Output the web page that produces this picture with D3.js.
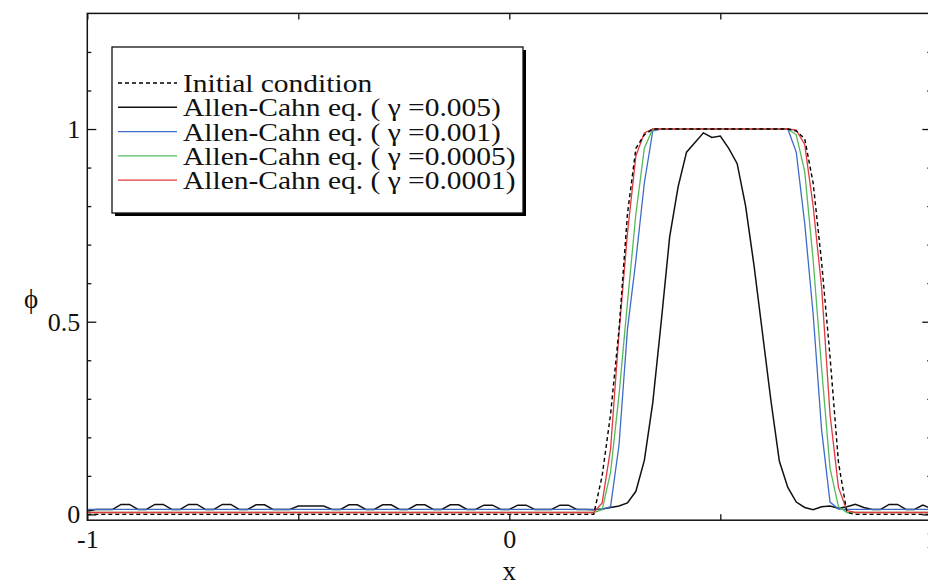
<!DOCTYPE html>
<html>
<head>
<meta charset="utf-8">
<script src="https://cdn.jsdelivr.net/npm/d3@7.9.0/dist/d3.min.js"></script>
<style>
  html, body { margin: 0; padding: 0; background: #fff; }
  svg { display: block; }
  text { font-family: "Liberation Serif", "Times New Roman", serif; fill: #111; }
</style>
</head>
<body>
<svg id="chart" width="928" height="587"></svg>
<script>
// tick positions
const xTicks = [-1, -0.5, 0, 0.5, 1];
const xTickLabels = [-1, 0, 1];
const yMajorTicks = [0, 0.5, 1];
const yMinorTicks = [0.1, 0.2, 0.3, 0.4, 0.6, 0.7, 0.8, 0.9, 1.1, 1.2];

// Allen-Cahn, gamma = 0.005 (black, sampled every 0.02)
const blackX = [-1, -0.98, -0.96, -0.94, -0.92, -0.9, -0.88, -0.86, -0.84, -0.82,
  -0.8, -0.78, -0.76, -0.74, -0.72, -0.7, -0.68, -0.66, -0.64, -0.62,
  -0.6, -0.58, -0.56, -0.54, -0.52, -0.5, -0.48, -0.46, -0.44, -0.42,
  -0.4, -0.38, -0.36, -0.34, -0.32, -0.3, -0.28, -0.26, -0.24, -0.22,
  -0.2, -0.18, -0.16, -0.14, -0.12, -0.1, -0.08, -0.06, -0.04, -0.02,
  0, 0.02, 0.04, 0.06, 0.08, 0.1, 0.12, 0.14, 0.16, 0.18,
  0.2, 0.22, 0.24, 0.26, 0.28, 0.3, 0.32, 0.34, 0.36, 0.38,
  0.4, 0.42, 0.44, 0.46, 0.48, 0.5, 0.52, 0.54, 0.56, 0.58,
  0.6, 0.62, 0.64, 0.66, 0.68, 0.7, 0.72, 0.74, 0.76, 0.78,
  0.8, 0.82, 0.84, 0.86, 0.88, 0.9, 0.92, 0.94, 0.96, 0.98, 1];
const blackY = [0.008, 0.013, 0.013, 0.013, 0.026, 0.026, 0.013, 0.013, 0.026, 0.026,
  0.013, 0.013, 0.026, 0.026, 0.013, 0.013, 0.026, 0.026, 0.013, 0.013,
  0.025, 0.025, 0.013, 0.013, 0.013, 0.022, 0.022, 0.022, 0.022, 0.013,
  0.013, 0.025, 0.025, 0.013, 0.013, 0.025, 0.025, 0.013, 0.013, 0.025,
  0.025, 0.013, 0.013, 0.025, 0.025, 0.013, 0.013, 0.024, 0.024, 0.013,
  0.013, 0.024, 0.024, 0.013, 0.013, 0.013, 0.024, 0.024, 0.013, 0.013,
  0.012, 0.014, 0.018, 0.022, 0.03, 0.06, 0.14, 0.29, 0.5, 0.72,
  0.85, 0.94, 0.965, 0.99, 0.978, 0.982, 0.95, 0.91, 0.8, 0.645,
  0.47, 0.295, 0.138, 0.07, 0.032, 0.018, 0.012, 0.02, 0.022, 0.016,
  0.02, 0.026, 0.018, 0.013, 0.013, 0.026, 0.026, 0.013, 0.013, 0.024, 0.015];

// gamma = 0.001 (blue)
const blueX = [-1, 0.22, 0.24, 0.26, 0.28, 0.3, 0.32, 0.34, 0.36, 0.66, 0.68, 0.7, 0.72, 0.74, 0.76, 0.78, 0.8, 1];
const blueY = [0.013, 0.013, 0.02, 0.18, 0.48, 0.66, 0.86, 0.995, 1, 1, 0.94, 0.755, 0.52, 0.22, 0.032, 0.014, 0.013, 0.013];

// gamma = 0.0005 (green)
const greenX = [-1, 0.2, 0.22, 0.24, 0.26, 0.28, 0.3, 0.32, 0.34, 0.66, 0.68, 0.7, 0.72, 0.74, 0.76, 0.78, 0.8, 1];
const greenY = [0.005, 0.005, 0.012, 0.11, 0.31, 0.55, 0.78, 0.95, 1, 1, 0.985, 0.89, 0.66, 0.38, 0.12, 0.02, 0.005, 0.005];

// gamma = 0.0001 (red)
const redX = [-1, 0.2, 0.22, 0.24, 0.26, 0.28, 0.3, 0.32, 0.34, 0.66, 0.68, 0.7, 0.72, 0.74, 0.76, 0.78, 0.8, 0.82, 1];
const redY = [0.005, 0.005, 0.03, 0.17, 0.47, 0.73, 0.93, 0.99, 1, 1, 0.997, 0.96, 0.8, 0.59, 0.26, 0.07, 0.01, 0.005, 0.005];

// initial condition (dashed)
const initX = [-1, 0.2, 0.22, 0.24, 0.26, 0.28, 0.3, 0.32, 0.34, 0.66, 0.68, 0.7, 0.72, 0.74, 0.76, 0.78, 0.8, 0.82, 1];
const initY = [0, 0, 0.1, 0.26, 0.48, 0.78, 0.95, 0.985, 1, 1, 0.995, 0.975, 0.86, 0.655, 0.41, 0.135, 0.005, 0, 0];

const legendLabels = [
  'Initial condition',
  'Allen-Cahn eq. ( \u03b3 =0.005)',
  'Allen-Cahn eq. ( \u03b3 =0.001)',
  'Allen-Cahn eq. ( \u03b3 =0.0005)',
  'Allen-Cahn eq. ( \u03b3 =0.0001)',
];

const series = [
  { xs: initX, ys: initY, color: '#000', dash: '4,3', width: 1.4 },
  { xs: blackX, ys: blackY, color: '#111', dash: null, width: 1.5 },
  { xs: blueX, ys: blueY, color: '#3d6cc8', dash: null, width: 1.3 },
  { xs: greenX, ys: greenY, color: '#57b85a', dash: null, width: 1.3 },
  { xs: redX, ys: redY, color: '#e03a3e', dash: null, width: 1.3 },
];

const svg = d3.select('#chart');
const plotLeft = 87.3, plotRight = 931.3, plotTop = 13.4, plotBottom = 520.2;

const x = d3.scaleLinear().domain([-1, 1]).range([plotLeft, plotRight]);
const y = d3.scaleLinear().domain([-0.015, 1.3]).range([plotBottom, plotTop]);

const line = d3.line().x((d) => x(d[0])).y((d) => y(d[1]));

// curves (dashed drawn last so it sits on top)
const drawOrder = [1, 2, 3, 4, 0];
drawOrder.forEach((i) => {
  const s = series[i];
  svg.append('path')
    .datum(s.xs.map((v, k) => [v, s.ys[k]]))
    .attr('d', line)
    .attr('fill', 'none')
    .attr('stroke', s.color)
    .attr('stroke-width', s.width)
    .attr('stroke-dasharray', s.dash);
});

// axes
const fontSize = 26;
function styleAxis(g) {
  g.select('.domain').remove();
  g.selectAll('line').attr('stroke', '#111').attr('stroke-width', 1.3);
  g.selectAll('text')
    .attr('font-size', fontSize)
    .attr('font-family', '"Liberation Serif", serif')
    .attr('fill', '#111');
}

// plain hyphen for negatives, like the original
const fmtX = (d) => (xTickLabels.includes(d) ? String(d) : '');

svg.append('g')
  .attr('transform', `translate(0,${plotBottom})`)
  .call(d3.axisBottom(x).tickValues(xTicks).tickSize(-6).tickPadding(9).tickFormat(fmtX))
  .call(styleAxis);

svg.append('g')
  .attr('transform', `translate(0,${plotTop})`)
  .call(d3.axisTop(x).tickValues(xTicks).tickSize(-6).tickFormat(''))
  .call(styleAxis);

svg.append('g')
  .attr('transform', `translate(${plotLeft},0)`)
  .call(d3.axisLeft(y).tickValues(yMajorTicks).tickSize(-9).tickPadding(7).tickFormat((d) => String(d)))
  .call(styleAxis);

svg.append('g')
  .attr('transform', `translate(${plotLeft},0)`)
  .call(d3.axisLeft(y).tickValues(yMinorTicks).tickSize(-4).tickFormat(''))
  .call(styleAxis);

svg.append('g')
  .attr('transform', `translate(${plotRight},0)`)
  .call(d3.axisRight(y).tickValues(yMajorTicks).tickSize(-9).tickFormat(''))
  .call(styleAxis);

svg.append('g')
  .attr('transform', `translate(${plotRight},0)`)
  .call(d3.axisRight(y).tickValues(yMinorTicks).tickSize(-4).tickFormat(''))
  .call(styleAxis);

// frame
svg.append('rect')
  .attr('x', plotLeft).attr('y', plotTop)
  .attr('width', plotRight - plotLeft).attr('height', plotBottom - plotTop)
  .attr('fill', 'none').attr('stroke', '#111').attr('stroke-width', 1.5);

// axis titles
svg.append('text')
  .attr('x', x(0)).attr('y', 580)
  .attr('text-anchor', 'middle')
  .attr('font-size', 27)
  .text('x');

svg.append('text')
  .attr('x', 31).attr('y', 308)
  .attr('text-anchor', 'middle')
  .attr('font-size', 27)
  .text('\u03d5');

// legend
const lg = { x: 112, y: 47, w: 411, h: 166 };
svg.append('rect')
  .attr('x', lg.x + 3).attr('y', lg.y + 3)
  .attr('width', lg.w).attr('height', lg.h)
  .attr('fill', '#000');
svg.append('rect')
  .attr('x', lg.x).attr('y', lg.y)
  .attr('width', lg.w).attr('height', lg.h)
  .attr('fill', '#fff').attr('stroke', '#111').attr('stroke-width', 1.3);

legendLabels.forEach((label, i) => {
  const s = series[i];
  const base = 92 + i * 24.3;
  svg.append('line')
    .attr('x1', 118).attr('x2', 177)
    .attr('y1', base - 9).attr('y2', base - 9)
    .attr('stroke', s.color)
    .attr('stroke-width', s.width)
    .attr('stroke-dasharray', s.dash);
  svg.append('text')
    .attr('transform', `translate(183,${base}) scale(1.18,1)`)
    .attr('font-size', 25)
    .text(label);
});
</script>
</body>
</html>
